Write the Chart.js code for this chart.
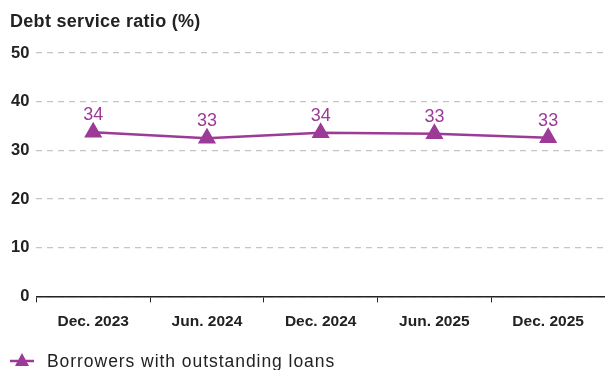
<!DOCTYPE html>
<html>
<head>
<meta charset="utf-8">
<script src="https://cdn.jsdelivr.net/npm/chart.js@4.4.1/dist/chart.umd.min.js"></script>
<style>
  html, body { margin: 0; padding: 0; background: #fff; overflow: hidden; }
  #wrap { width: 605px; height: 370px; }
</style>
</head>
<body>
<div id="wrap"><canvas id="dsrChart" width="605" height="370"></canvas></div>
<script>
var categories = ['Dec. 2023', 'Jun. 2024', 'Dec. 2024', 'Jun. 2025', 'Dec. 2025'];
var borrowers = [33.7, 32.5, 33.6, 33.4, 32.6];
var yTicks = [0, 10, 20, 30, 40, 50];
var titleText = 'Debt service ratio (%)';
var seriesName = 'Borrowers with outstanding loans';

var purple = '#9c3b97';
var ink = '#222';
var fontFamily = '"Liberation Sans", Arial, Helvetica, sans-serif';

// title at the top, legend row at the bottom, value labels on the points
var decorations = {
    id: 'decorations',
    afterDatasetsDraw(chart) {
        var ctx = chart.ctx;
        var meta = chart.getDatasetMeta(0);
        ctx.save();
        ctx.fillStyle = purple;
        ctx.font = '18px ' + fontFamily;
        ctx.textAlign = 'center';
        ctx.textBaseline = 'alphabetic';
        meta.data.forEach((pt, i) => {
            ctx.fillText(Math.round(borrowers[i]), pt.x, pt.y - 12);
        });
        ctx.restore();
    },
    afterDraw(chart) {
        var ctx = chart.ctx;
        ctx.save();
        ctx.textAlign = 'left';
        ctx.textBaseline = 'alphabetic';

        ctx.fillStyle = ink;
        ctx.font = 'bold 18px ' + fontFamily;
        ctx.letterSpacing = '0.3px';
        ctx.fillText(titleText, 10, 27);

        // legend: line with a triangle, then the series name
        var ly = 361;
        ctx.strokeStyle = purple;
        ctx.lineWidth = 2.5;
        ctx.beginPath();
        ctx.moveTo(10, ly); ctx.lineTo(34, ly);
        ctx.stroke();
        ctx.fillStyle = purple;
        ctx.beginPath();
        ctx.moveTo(22, 353); ctx.lineTo(29, 366); ctx.lineTo(15, 366);
        ctx.closePath();
        ctx.fill();

        ctx.fillStyle = ink;
        ctx.font = '17.5px ' + fontFamily;
        ctx.letterSpacing = '0.95px';
        ctx.fillText(seriesName, 47, 367);
        ctx.restore();
    }
};

var ctx = document.getElementById('dsrChart');
var chart = new Chart(ctx, {
    type: 'line',
    data: {
        labels: categories,
        datasets: [{
            label: seriesName,
            data: borrowers,
            borderColor: purple,
            backgroundColor: purple,
            borderWidth: 2.5,
            pointStyle: 'triangle',
            pointRadius: 8,
            pointHoverRadius: 8,
            tension: 0
        }]
    },
    options: {
        responsive: false,
        animation: false,
        devicePixelRatio: 1,
        layout: { autoPadding: false, padding: { left: 4, right: 0, top: 53, bottom: 29 } },
        plugins: {
            title: { display: false },
            legend: { display: false },
            tooltip: { enabled: false }
        },
        scales: {
            x: {
                offset: true,
                afterFit(axis) {
                    axis.paddingLeft = 0;
                    axis.paddingRight = 0;
                },
                grid: {
                    offset: true,
                    drawOnChartArea: false,
                    drawTicks: true,
                    tickLength: 6,
                    color: ink
                },
                border: { display: true, color: ink, width: 1.5 },
                ticks: {
                    color: ink,
                    font: { family: fontFamily, size: 15.5, weight: 'bold' },
                    padding: 10,
                    maxRotation: 0
                }
            },
            y: {
                min: 0,
                max: 50,
                afterBuildTicks(axis) {
                    axis.ticks = yTicks.map(v => ({ value: v }));
                },
                afterFit(axis) {
                    axis.paddingTop = 0;
                    axis.paddingBottom = 0;
                },
                grid: {
                    color: '#c4c4c4',
                    lineWidth: 1.2,
                    drawTicks: false
                },
                border: { display: false, dash: [6, 5] },
                ticks: {
                    color: ink,
                    font: { family: fontFamily, size: 16.5, weight: 'bold' },
                    padding: 7
                }
            }
        }
    },
    plugins: [decorations]
});
</script>
</body>
</html>
